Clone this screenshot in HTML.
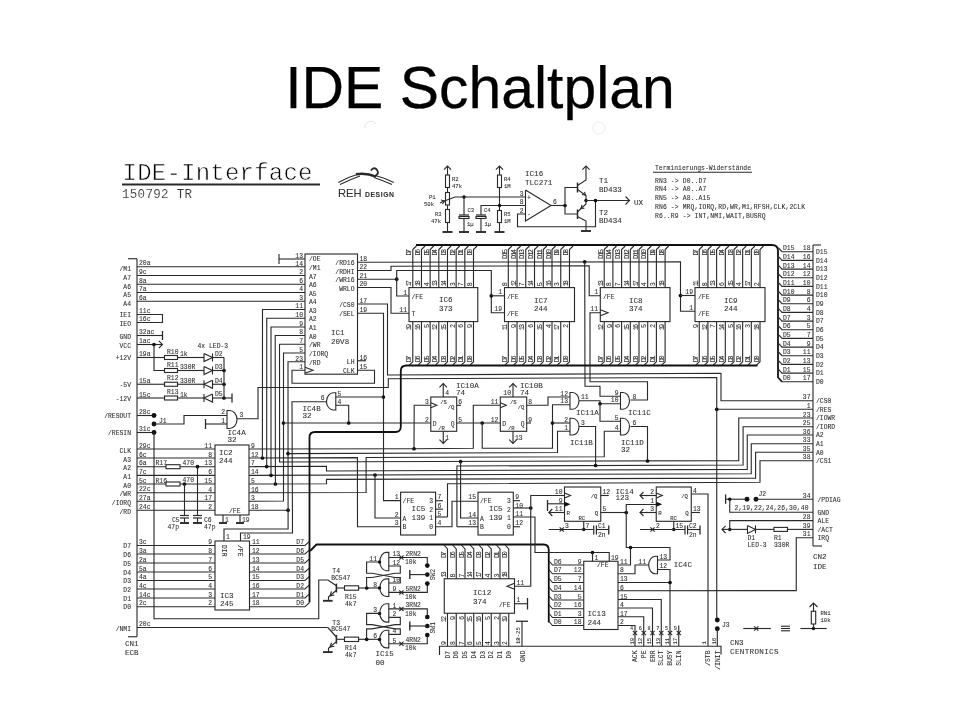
<!DOCTYPE html>
<html><head><meta charset="utf-8"><title>IDE Schaltplan</title>
<style>
html,body{margin:0;padding:0;background:#fff;}
body{width:960px;height:720px;overflow:hidden;position:relative;font-family:"Liberation Sans",sans-serif;}
h1{position:absolute;left:0;top:59.2px;margin:0;width:960px;text-align:center;font-weight:normal;font-size:58.9px;line-height:1;color:#000;white-space:nowrap;-webkit-text-stroke:0.25px #000;}
svg{position:absolute;left:0;top:0;will-change:transform;}
svg polyline,svg rect,svg path,svg line{fill:none;stroke:#2a2a2a;stroke-width:1.12}
svg .b{stroke:#111;stroke-width:1.8;stroke-linejoin:round}
svg .d{fill:#111;stroke:none}
svg rect.w{fill:#fff}
svg text{font-family:"Liberation Mono","DejaVu Sans Mono",monospace;fill:#2e2e2e;stroke:#2e2e2e;stroke-width:.08px;font-size:6.4px}
svg .n{font-size:7.6px;fill:#333}
svg .s{font-family:"Liberation Sans",sans-serif;fill:#333}
svg .sb{font-weight:bold}
svg .thin{fill:#000;stroke:#fff;stroke-width:.6px}
svg .thin2{stroke:#fff;stroke-width:.12px}
</style></head><body>
<h1>IDE Schaltplan</h1>
<svg width="960" height="720" viewBox="0 0 960 720">
<text x="122.5" y="180" class="n thin" textLength="190" style="font-size:24px">IDE-Interface</text>
<polyline points="122,184.5 320,184.5" style="stroke-width:2"/>
<text x="122" y="197.5" class="n thin2" textLength="70" style="font-size:12.5px">150792 TR</text>
<path d="M338.3,182.5 Q348,177 358,174.3" style="stroke-width:1.1"/>
<path d="M340,184.6 Q350,179.5 360,176" style="stroke-width:1.1"/>
<path d="M393.75,182.5 Q385,178 376,175.8" style="stroke-width:1.1"/>
<path d="M392,184.6 Q383,180.5 374,177.5" style="stroke-width:1.1"/>
<path d="M356,174.3 Q366,172.6 376,176.6" style="stroke-width:2.6"/>
<path d="M374,176.3 Q379.3,174.5 377.4,170.6 Q376,167.6 373.5,168.4 Q371.6,169.2 371,170.6" style="stroke-width:1.8"/>
<text x="338" y="196.8" class="s" textLength="23.5" style="font-size:11.2px">REH</text>
<text x="365" y="196.8" class="s sb" textLength="29" style="font-size:6.8px">DESIGN</text>
<polyline points="137,258.75 137,636.75"/>
<polyline points="128,258.75 137,258.75"/>
<polyline points="128,636.75 137,636.75"/>
<polyline points="137,266.75 305,266.75"/>
<text x="139" y="265.25" class="t">20a</text>
<text x="131" y="271.05" class="t" text-anchor="end">/M1</text>
<text x="303" y="265.55" class="t" text-anchor="end">14</text>
<text x="309" y="269.75" class="t">/M1</text>
<polyline points="137,275.5 305,275.5"/>
<text x="139" y="274" class="t">9c</text>
<text x="131" y="279.8" class="t" text-anchor="end">A7</text>
<text x="303" y="274.3" class="t" text-anchor="end">2</text>
<text x="309" y="278.5" class="t">A7</text>
<polyline points="137,284.25 305,284.25"/>
<text x="139" y="282.75" class="t">8a</text>
<text x="131" y="288.55" class="t" text-anchor="end">A6</text>
<text x="303" y="283.05" class="t" text-anchor="end">6</text>
<text x="309" y="287.25" class="t">A6</text>
<polyline points="137,292.5 305,292.5"/>
<text x="139" y="291" class="t">7a</text>
<text x="131" y="296.8" class="t" text-anchor="end">A5</text>
<text x="303" y="291.3" class="t" text-anchor="end">4</text>
<text x="309" y="295.5" class="t">A5</text>
<polyline points="137,301.25 305,301.25"/>
<text x="139" y="299.75" class="t">6a</text>
<text x="131" y="305.55" class="t" text-anchor="end">A4</text>
<text x="303" y="300.05" class="t" text-anchor="end">3</text>
<text x="309" y="304.25" class="t">A4</text>
<polyline points="279,259 305,259"/>
<polyline points="279,254 279,264"/>
<text x="303" y="257.5" class="t" text-anchor="end">13</text>
<text x="309" y="261" class="t">/OE</text>
<polyline points="137,314.5 162.5,314.5 162.5,322.5 137,322.5"/>
<text x="139" y="313" class="t">11c</text>
<text x="139" y="321.3" class="t">16c</text>
<text x="131" y="317" class="t" text-anchor="end">IEI</text>
<text x="131" y="325.7" class="t" text-anchor="end">IEO</text>
<polyline points="137,335.5 162.5,335.5"/>
<polyline points="162.5,331 162.5,340" style="stroke-width:1.3"/>
<text x="139" y="334" class="t">32ac</text>
<text x="131" y="338.5" class="t" text-anchor="end">GND</text>
<polyline points="137,344.5 162,344.5"/>
<polyline points="158.9,340.9 162.5,344.5 158.9,348.1"/>
<text x="139" y="343" class="t">1ac</text>
<text x="131" y="347.5" class="t" text-anchor="end">VCC</text>
<circle cx="154" cy="344.5" r="1.8499999999999999" class="d"/>
<polyline points="154,344.5 154,370.5 164.5,370.5"/>
<polyline points="137,357.5 164.5,357.5"/>
<rect x="164.5" y="355.5" width="13" height="4" class="w"/>
<polyline points="177.5,357.5 204,357.5"/>
<polyline points="212.5,357.5 224,357.5"/>
<polyline points="204,353.5 204,361.5 212.5,357.5 204,353.5"/>
<polyline points="212.5,353.5 212.5,361.5"/>
<text x="167" y="353.7" class="t">R10</text>
<text x="180" y="356" class="t">1k</text>
<text x="215" y="355.8" class="t">D2</text>
<rect x="164.5" y="368.5" width="13" height="4" class="w"/>
<polyline points="177.5,370.5 204,370.5"/>
<polyline points="212.5,370.5 224,370.5"/>
<polyline points="204,366.5 204,374.5 212.5,370.5 204,366.5"/>
<polyline points="212.5,366.5 212.5,374.5"/>
<text x="167" y="366.7" class="t">R11</text>
<text x="180" y="369" class="t">330R</text>
<text x="215" y="368.8" class="t">D3</text>
<circle cx="224" cy="370.5" r="1.8499999999999999" class="d"/>
<polyline points="137,384.25 164.5,384.25"/>
<rect x="164.5" y="382.25" width="13" height="4" class="w"/>
<polyline points="177.5,384.25 204,384.25"/>
<polyline points="212.5,384.25 224,384.25"/>
<polyline points="212.5,380.25 212.5,388.25 204,384.25 212.5,380.25"/>
<polyline points="204,380.25 204,388.25"/>
<text x="167" y="380.45" class="t">R12</text>
<text x="180" y="382.75" class="t">330R</text>
<text x="215" y="382.55" class="t">D4</text>
<circle cx="224" cy="384.25" r="1.8499999999999999" class="d"/>
<polyline points="137,398 164.5,398"/>
<rect x="164.5" y="396" width="13" height="4" class="w"/>
<polyline points="177.5,398 204,398"/>
<polyline points="212.5,398 224,398"/>
<polyline points="212.5,394 212.5,402 204,398 212.5,394"/>
<polyline points="204,394 204,402"/>
<text x="167" y="394.2" class="t">R13</text>
<text x="180" y="396.5" class="t">1k</text>
<text x="215" y="396.3" class="t">D5</text>
<circle cx="224" cy="398" r="1.8499999999999999" class="d"/>
<polyline points="224,357.5 224,398"/>
<polyline points="224,398 232,398"/>
<polyline points="232,393.5 232,402.5" style="stroke-width:1.3"/>
<text x="197.5" y="347.5" class="t">4x LED-3</text>
<text x="139" y="356" class="t">19a</text>
<text x="131" y="360" class="t" text-anchor="end">+12V</text>
<text x="139" y="382.75" class="t">15a</text>
<text x="131" y="386.75" class="t" text-anchor="end">-5V</text>
<text x="139" y="396.5" class="t">15c</text>
<text x="131" y="400.5" class="t" text-anchor="end">-12V</text>
<polyline points="137,415.5 154,415.5"/>
<text x="139" y="414" class="t">28c</text>
<text x="131" y="418" class="t" text-anchor="end">/RESOUT</text>
<polyline points="137,432.5 154,432.5"/>
<text x="139" y="431" class="t">31c</text>
<text x="131" y="435" class="t" text-anchor="end">/RESIN</text>
<circle cx="154" cy="415.5" r="2.45" class="d"/>
<circle cx="154" cy="424" r="2.45" class="d"/>
<circle cx="154" cy="432.5" r="2.45" class="d"/>
<text x="159" y="422.5" class="t">J1</text>
<polyline points="154,424 184,424 184,415.5 227,415.5"/>
<polyline points="205.5,419 205.5,429" style="stroke-width:1.3"/>
<polyline points="205.5,424 227,424"/>
<path d="M227,410.5 H229.5 A7.5,9 0 0 1 229.5,428.5 H227 Z"/>
<text x="225" y="414" class="t" text-anchor="end">2</text>
<text x="225" y="422.5" class="t" text-anchor="end">1</text>
<text x="239.5" y="417" class="t">3</text>
<text x="227.5" y="434.7" class="n">IC4A</text>
<text x="227.5" y="441.7" class="n">32</text>
<polyline points="237,418.75 258,418.75 258,387.5 388.3,387.5 388.3,378.7 716.75,377.5 716.75,620"/>
<polyline points="154,432.5 154,618.75 318.75,618.75 318.75,580 327.8,580"/>
<rect x="215" y="445" width="34" height="70"/>
<polyline points="137,449 215,449"/>
<text x="139" y="447.5" class="t">29c</text>
<text x="131" y="452.5" class="t" text-anchor="end">CLK</text>
<text x="212" y="447.7" class="t" text-anchor="end">11</text>
<text x="251" y="447.7" class="t">9</text>
<polyline points="137,458 215,458"/>
<text x="139" y="456.5" class="t">6c</text>
<text x="131" y="461.5" class="t" text-anchor="end">A3</text>
<text x="212" y="456.7" class="t" text-anchor="end">8</text>
<text x="251" y="456.7" class="t">12</text>
<polyline points="137,466.7 215,466.7"/>
<text x="139" y="465.2" class="t">6a</text>
<text x="131" y="470.2" class="t" text-anchor="end">A2</text>
<text x="212" y="465.4" class="t" text-anchor="end">13</text>
<text x="251" y="465.4" class="t">7</text>
<polyline points="137,475.4 215,475.4"/>
<text x="139" y="473.9" class="t">7c</text>
<text x="131" y="478.9" class="t" text-anchor="end">A1</text>
<text x="212" y="474.1" class="t" text-anchor="end">6</text>
<text x="251" y="474.1" class="t">14</text>
<polyline points="137,484 215,484"/>
<text x="139" y="482.5" class="t">5c</text>
<text x="131" y="487.5" class="t" text-anchor="end">A0</text>
<text x="212" y="482.7" class="t" text-anchor="end">15</text>
<text x="251" y="482.7" class="t">5</text>
<polyline points="137,492.8 215,492.8"/>
<text x="139" y="491.3" class="t">22c</text>
<text x="131" y="496.3" class="t" text-anchor="end">/WR</text>
<text x="212" y="491.5" class="t" text-anchor="end">4</text>
<text x="251" y="491.5" class="t">16</text>
<polyline points="137,501.3 215,501.3"/>
<text x="139" y="499.8" class="t">27a</text>
<text x="131" y="504.8" class="t" text-anchor="end">/IORQ</text>
<text x="212" y="500" class="t" text-anchor="end">17</text>
<text x="251" y="500" class="t">3</text>
<polyline points="137,510.3 215,510.3"/>
<text x="139" y="508.8" class="t">24c</text>
<text x="131" y="513.8" class="t" text-anchor="end">/RD</text>
<text x="212" y="509" class="t" text-anchor="end">2</text>
<text x="251" y="509" class="t">18</text>
<rect x="166" y="464.7" width="14" height="4" class="w"/>
<rect x="166" y="482" width="14" height="4" class="w"/>
<text x="155.5" y="465.2" class="t">R17</text>
<text x="182.5" y="464.8" class="t">470</text>
<text x="155.5" y="482.7" class="t">R16</text>
<text x="182.5" y="482.3" class="t">470</text>
<circle cx="197.5" cy="466.7" r="1.8499999999999999" class="d"/>
<polyline points="197.5,466.7 197.5,515.5"/>
<circle cx="184.5" cy="484" r="1.8499999999999999" class="d"/>
<polyline points="184.5,484 184.5,515.5"/>
<polyline points="180,515.5 189,515.5" style="stroke-width:1.2"/>
<polyline points="180,518 189,518" style="stroke-width:1.2"/>
<polyline points="184.5,518 184.5,523"/>
<polyline points="180,523 189,523" style="stroke-width:1.9"/>
<polyline points="193,515.5 202,515.5" style="stroke-width:1.2"/>
<polyline points="193,518 202,518" style="stroke-width:1.2"/>
<polyline points="197.5,518 197.5,523"/>
<polyline points="193,523 202,523" style="stroke-width:1.9"/>
<text x="172" y="521.7" class="t">C5</text>
<text x="167.5" y="528.7" class="t">47p</text>
<text x="204" y="521.7" class="t">C6</text>
<text x="204" y="528.7" class="t">47p</text>
<text x="219" y="454.7" class="n">IC2</text>
<text x="219" y="462.7" class="n">244</text>
<text x="229" y="513" class="t">/FE</text>
<polyline points="223,515 223,523"/>
<polyline points="219,523 227,523" style="stroke-width:1.9"/>
<text x="225" y="521.5" class="t">1</text>
<polyline points="240,515 240,523"/>
<polyline points="236,523 244,523" style="stroke-width:1.9"/>
<text x="242" y="521.5" class="t">19</text>
<polyline points="249,449 414,448.75 473.3,448.3 473.3,405.3 500.3,405.3"/>
<polyline points="249,458 357.4,457.6 357.5,526.75 400.6,526.75"/>
<circle cx="262.4" cy="458" r="1.8499999999999999" class="d"/>
<polyline points="249,466.7 326.5,466.3 326.5,471 747.25,469.4 747.25,435 813,435"/>
<circle cx="266.7" cy="466.6" r="1.8499999999999999" class="d"/>
<polyline points="249,475.4 751.25,473.75 751.25,443.75 813,443.75"/>
<circle cx="271" cy="475.3" r="1.8499999999999999" class="d"/>
<circle cx="375" cy="475" r="1.8499999999999999" class="d"/>
<polyline points="249,484 326.5,483.8 326.5,479.4 755.6,478.1 755.6,452.2 813,452.2"/>
<circle cx="275.4" cy="484" r="1.8499999999999999" class="d"/>
<polyline points="249,492.8 366.1,492.5 366.1,457.5 604.25,456.75 604.25,431.25 620.5,431.25"/>
<polyline points="249,501.3 283.5,501 283.5,353 305,353"/>
<circle cx="283.4" cy="423" r="1.8499999999999999" class="d"/>
<polyline points="283.4,423 430.8,423"/>
<polyline points="249,510.3 288.1,510.3"/>
<circle cx="288.1" cy="510.2" r="1.8499999999999999" class="d"/>
<polyline points="305,361.75 288,361.75 288.1,529 224,529 224,541"/>
<circle cx="288" cy="453.6" r="1.8499999999999999" class="d"/>
<polyline points="288,453.6 557.5,452.5 557.5,431.25 570,431.25"/>
<polyline points="305,309.5 262.5,309.5 262.4,458"/>
<polyline points="305,318.25 266.75,318.25 266.7,466.6"/>
<polyline points="305,327 271,327 271,475.3"/>
<polyline points="305,335.5 275.2,335.5 275.4,484"/>
<polyline points="305,344.25 279.5,344.25 279.6,462 738.75,460.6 738.75,418 813,418"/>
<rect x="305" y="254" width="52.5" height="120.2"/>
<text x="303" y="308.3" class="t" text-anchor="end">11</text>
<text x="309" y="312.5" class="t">A3</text>
<text x="303" y="317.05" class="t" text-anchor="end">10</text>
<text x="309" y="321.25" class="t">A2</text>
<text x="303" y="325.8" class="t" text-anchor="end">9</text>
<text x="309" y="330" class="t">A1</text>
<text x="303" y="334.3" class="t" text-anchor="end">8</text>
<text x="309" y="338.5" class="t">A0</text>
<text x="303" y="343.05" class="t" text-anchor="end">7</text>
<text x="309" y="347.25" class="t">/WR</text>
<text x="303" y="351.8" class="t" text-anchor="end">5</text>
<text x="309" y="356" class="t">/IORQ</text>
<text x="303" y="360.55" class="t" text-anchor="end">23</text>
<text x="309" y="364.75" class="t">/RD</text>
<text x="303" y="369.1" class="t" text-anchor="end">1</text>
<text x="309" y="373.3" class="t"></text>
<polyline points="305,367.3 313,370.3 305,373.3"/>
<polyline points="305,370.3 292,370.3 292,383.3 374.5,383.3 374.5,370.3 357.5,370.3"/>
<text x="359.5" y="261" class="t">18</text>
<text x="354.5" y="265.2" class="t" text-anchor="end">/RD16</text>
<text x="359.5" y="269.3" class="t">22</text>
<text x="354.5" y="273.5" class="t" text-anchor="end">/RDHI</text>
<text x="359.5" y="278" class="t">21</text>
<text x="354.5" y="282.2" class="t" text-anchor="end">/WR16</text>
<text x="359.5" y="286.3" class="t">20</text>
<text x="354.5" y="290.5" class="t" text-anchor="end">WRLO</text>
<text x="359.5" y="302.8" class="t">17</text>
<text x="354.5" y="307" class="t" text-anchor="end">/CS0</text>
<text x="359.5" y="312.1" class="t">19</text>
<text x="354.5" y="316.3" class="t" text-anchor="end">/SEL</text>
<text x="359.5" y="359.55" class="t">16</text>
<text x="354.5" y="363.75" class="t" text-anchor="end">LH</text>
<text x="359.5" y="369.1" class="t">15</text>
<text x="354.5" y="373.3" class="t" text-anchor="end">CLK</text>
<text x="331" y="335" class="n">IC1</text>
<text x="331" y="343.7" class="n">20V8</text>
<polyline points="357.5,360.75 366,360.75"/>
<polyline points="357.5,262.2 680.5,261.75 680.5,311.25 695,311.25"/>
<circle cx="680.5" cy="295.5" r="1.8499999999999999" class="d"/>
<polyline points="680.5,295.5 695,295.5"/>
<circle cx="584.7" cy="261.8" r="1.8499999999999999" class="d"/>
<polyline points="584.7,261.8 585,386.25 600,386.25 600,396.25 620.5,396.25"/>
<polyline points="357.5,270.5 391,270.5 391,266.3 589.2,265.8 589.2,295.8 600.3,295.8"/>
<polyline points="357.5,279.2 396.7,279.2"/>
<circle cx="396.7" cy="279.2" r="1.8499999999999999" class="d"/>
<polyline points="409,296 396.7,296 396.7,270.5 491.3,270.5 491.3,312.8 504.5,312.8"/>
<circle cx="491.3" cy="295.8" r="1.8499999999999999" class="d"/>
<polyline points="491.3,295.8 504.5,295.8"/>
<polyline points="357.5,287.5 391,287.5 391,313.3 409,313.3"/>
<polyline points="357.5,304 387.5,304 387.5,375 721,373.25 721,400.75 813,400.75"/>
<polyline points="357.5,313.3 383.5,313.3 383.5,500.6 400.6,500.6"/>
<circle cx="383.4" cy="397" r="1.8499999999999999" class="d"/>
<path d="M335.8,392.8 H333.5 A7,8.6 0 0 0 333.5,410 H335.8 Z"/>
<polyline points="335.8,397 383.4,397"/>
<polyline points="335.8,405.3 348.7,405.3 348.7,423"/>
<circle cx="348.7" cy="423" r="1.8499999999999999" class="d"/>
<polyline points="327,401.7 292,401.7 292.5,533 240.5,533 240.5,541"/>
<text x="337.5" y="395.5" class="t">5</text>
<text x="337.5" y="404" class="t">4</text>
<text x="324.5" y="400" class="t" text-anchor="end">6</text>
<text x="302.5" y="410.5" class="n">IC4B</text>
<text x="302.5" y="417.5" class="n">32</text>
<rect x="215" y="541" width="34.5" height="69"/>
<polyline points="137,545.5 215,545.5"/>
<text x="139" y="544" class="t">3c</text>
<text x="131" y="548.2" class="t" text-anchor="end">D7</text>
<text x="212" y="544.2" class="t" text-anchor="end">9</text>
<polyline points="249.5,545.5 305,545.5 309.5,541.3"/>
<text x="252" y="544.2" class="t">11</text>
<text x="304" y="544.2" class="t" text-anchor="end">D7</text>
<polyline points="137,554 215,554"/>
<text x="139" y="552.5" class="t">3a</text>
<text x="131" y="556.7" class="t" text-anchor="end">D6</text>
<text x="212" y="552.7" class="t" text-anchor="end">8</text>
<polyline points="249.5,554 305,554 309.5,549.8"/>
<text x="252" y="552.7" class="t">12</text>
<text x="304" y="552.7" class="t" text-anchor="end">D6</text>
<polyline points="137,563 215,563"/>
<text x="139" y="561.5" class="t">2a</text>
<text x="131" y="565.7" class="t" text-anchor="end">D5</text>
<text x="212" y="561.7" class="t" text-anchor="end">7</text>
<polyline points="249.5,563 305,563 309.5,558.8"/>
<text x="252" y="561.7" class="t">13</text>
<text x="304" y="561.7" class="t" text-anchor="end">D5</text>
<polyline points="137,572 215,572"/>
<text x="139" y="570.5" class="t">5a</text>
<text x="131" y="574.7" class="t" text-anchor="end">D4</text>
<text x="212" y="570.7" class="t" text-anchor="end">6</text>
<polyline points="249.5,572 305,572 309.5,567.8"/>
<text x="252" y="570.7" class="t">14</text>
<text x="304" y="570.7" class="t" text-anchor="end">D4</text>
<polyline points="137,580.5 215,580.5"/>
<text x="139" y="579" class="t">4a</text>
<text x="131" y="583.2" class="t" text-anchor="end">D3</text>
<text x="212" y="579.2" class="t" text-anchor="end">5</text>
<polyline points="249.5,580.5 305,580.5 309.5,576.3"/>
<text x="252" y="579.2" class="t">15</text>
<text x="304" y="579.2" class="t" text-anchor="end">D3</text>
<polyline points="137,589 215,589"/>
<text x="139" y="587.5" class="t">4c</text>
<text x="131" y="591.7" class="t" text-anchor="end">D2</text>
<text x="212" y="587.7" class="t" text-anchor="end">4</text>
<polyline points="249.5,589 305,589 309.5,584.8"/>
<text x="252" y="587.7" class="t">16</text>
<text x="304" y="587.7" class="t" text-anchor="end">D2</text>
<polyline points="137,598 215,598"/>
<text x="139" y="596.5" class="t">14c</text>
<text x="131" y="600.7" class="t" text-anchor="end">D1</text>
<text x="212" y="596.7" class="t" text-anchor="end">3</text>
<polyline points="249.5,598 305,598 309.5,593.8"/>
<text x="252" y="596.7" class="t">17</text>
<text x="304" y="596.7" class="t" text-anchor="end">D1</text>
<polyline points="137,606.75 215,606.75"/>
<text x="139" y="605.25" class="t">2c</text>
<text x="131" y="609.45" class="t" text-anchor="end">D0</text>
<text x="212" y="605.45" class="t" text-anchor="end">2</text>
<polyline points="249.5,606.75 305,606.75 309.5,602.55"/>
<text x="252" y="605.45" class="t">18</text>
<text x="304" y="605.45" class="t" text-anchor="end">D0</text>
<text x="220" y="597.7" class="n">IC3</text>
<text x="220" y="606" class="n">245</text>
<text x="226" y="539" class="t">1</text>
<text x="243" y="539" class="t">19</text>
<text x="222" y="545" class="t" transform="rotate(90 222 545)">DIR</text>
<text x="237.5" y="545" class="t" transform="rotate(90 237.5 545)">/FE</text>
<polyline points="137,627.5 327.8,627.5"/>
<text x="139" y="626" class="t">20c</text>
<text x="131" y="630.5" class="t" text-anchor="end">/NMI</text>
<text x="125" y="646" class="n">CN1</text>
<text x="125" y="654.5" class="n">ECB</text>
<path d="M416,245 H772 Q778,245 778,251 V377.5 L782,381.75" class="b"/>
<path d="M757.5,365.5 H406.5 Q400.8,365.5 400.8,371 V426.5 Q400.8,432 395.5,432 H315 Q309.5,432 309.5,437.5 V602.5" class="b"/>
<path d="M310,551 L316.5,544.5 H543.5 Q548.75,544.5 548.75,550 V622.5" class="b"/>
<rect x="409" y="287.6" width="68.8" height="34"/>
<polyline points="412.8,287.6 412.8,249.5 416.4,246"/>
<polyline points="412.8,321.6 412.8,361.8 409.4,365"/>
<text x="411.4" y="248.8" class="t" text-anchor="end" transform="rotate(-90 411.4 248.8)" textLength="6.8" style="font-size:7.2px">D7</text>
<text x="411.4" y="286.3" class="t" transform="rotate(-90 411.4 286.3)" textLength="6.2" style="font-size:6.8px">17</text>
<text x="411.4" y="324" class="t" text-anchor="end" transform="rotate(-90 411.4 324)" textLength="6.2" style="font-size:6.8px">19</text>
<text x="411.4" y="362.3" class="t" transform="rotate(-90 411.4 362.3)" textLength="6.8" style="font-size:7.2px">D7</text>
<polyline points="421.47,287.6 421.47,249.5 425.07,246"/>
<polyline points="421.47,321.6 421.47,361.8 418.07,365"/>
<text x="420.07" y="248.8" class="t" text-anchor="end" transform="rotate(-90 420.07 248.8)" textLength="6.8" style="font-size:7.2px">D6</text>
<text x="420.07" y="286.3" class="t" transform="rotate(-90 420.07 286.3)" textLength="6.2" style="font-size:6.8px">18</text>
<text x="420.07" y="324" class="t" text-anchor="end" transform="rotate(-90 420.07 324)" textLength="6.2" style="font-size:6.8px">16</text>
<text x="420.07" y="362.3" class="t" transform="rotate(-90 420.07 362.3)" textLength="6.8" style="font-size:7.2px">D6</text>
<polyline points="430.14,287.6 430.14,249.5 433.74,246"/>
<polyline points="430.14,321.6 430.14,361.8 426.74,365"/>
<text x="428.74" y="248.8" class="t" text-anchor="end" transform="rotate(-90 428.74 248.8)" textLength="6.8" style="font-size:7.2px">D5</text>
<text x="428.74" y="286.3" class="t" transform="rotate(-90 428.74 286.3)" textLength="3.1" style="font-size:6.8px">4</text>
<text x="428.74" y="324" class="t" text-anchor="end" transform="rotate(-90 428.74 324)" textLength="3.1" style="font-size:6.8px">5</text>
<text x="428.74" y="362.3" class="t" transform="rotate(-90 428.74 362.3)" textLength="6.8" style="font-size:7.2px">D5</text>
<polyline points="438.81,287.6 438.81,249.5 442.41,246"/>
<polyline points="438.81,321.6 438.81,361.8 435.41,365"/>
<text x="437.41" y="248.8" class="t" text-anchor="end" transform="rotate(-90 437.41 248.8)" textLength="6.8" style="font-size:7.2px">D4</text>
<text x="437.41" y="286.3" class="t" transform="rotate(-90 437.41 286.3)" textLength="6.2" style="font-size:6.8px">13</text>
<text x="437.41" y="324" class="t" text-anchor="end" transform="rotate(-90 437.41 324)" textLength="6.2" style="font-size:6.8px">12</text>
<text x="437.41" y="362.3" class="t" transform="rotate(-90 437.41 362.3)" textLength="6.8" style="font-size:7.2px">D4</text>
<polyline points="447.48,287.6 447.48,249.5 451.08,246"/>
<polyline points="447.48,321.6 447.48,361.8 444.08,365"/>
<text x="446.08" y="248.8" class="t" text-anchor="end" transform="rotate(-90 446.08 248.8)" textLength="6.8" style="font-size:7.2px">D3</text>
<text x="446.08" y="286.3" class="t" transform="rotate(-90 446.08 286.3)" textLength="6.2" style="font-size:6.8px">14</text>
<text x="446.08" y="324" class="t" text-anchor="end" transform="rotate(-90 446.08 324)" textLength="6.2" style="font-size:6.8px">15</text>
<text x="446.08" y="362.3" class="t" transform="rotate(-90 446.08 362.3)" textLength="6.8" style="font-size:7.2px">D3</text>
<polyline points="456.15,287.6 456.15,249.5 459.75,246"/>
<polyline points="456.15,321.6 456.15,361.8 452.75,365"/>
<text x="454.75" y="248.8" class="t" text-anchor="end" transform="rotate(-90 454.75 248.8)" textLength="6.8" style="font-size:7.2px">D2</text>
<text x="454.75" y="286.3" class="t" transform="rotate(-90 454.75 286.3)" textLength="3.1" style="font-size:6.8px">3</text>
<text x="454.75" y="324" class="t" text-anchor="end" transform="rotate(-90 454.75 324)" textLength="3.1" style="font-size:6.8px">2</text>
<text x="454.75" y="362.3" class="t" transform="rotate(-90 454.75 362.3)" textLength="6.8" style="font-size:7.2px">D2</text>
<polyline points="464.82,287.6 464.82,249.5 468.42,246"/>
<polyline points="464.82,321.6 464.82,361.8 461.42,365"/>
<text x="463.42" y="248.8" class="t" text-anchor="end" transform="rotate(-90 463.42 248.8)" textLength="6.8" style="font-size:7.2px">D1</text>
<text x="463.42" y="286.3" class="t" transform="rotate(-90 463.42 286.3)" textLength="3.1" style="font-size:6.8px">7</text>
<text x="463.42" y="324" class="t" text-anchor="end" transform="rotate(-90 463.42 324)" textLength="3.1" style="font-size:6.8px">6</text>
<text x="463.42" y="362.3" class="t" transform="rotate(-90 463.42 362.3)" textLength="6.8" style="font-size:7.2px">D1</text>
<polyline points="473.49,287.6 473.49,249.5 477.09,246"/>
<polyline points="473.49,321.6 473.49,361.8 470.09,365"/>
<text x="472.09" y="248.8" class="t" text-anchor="end" transform="rotate(-90 472.09 248.8)" textLength="6.8" style="font-size:7.2px">D0</text>
<text x="472.09" y="286.3" class="t" transform="rotate(-90 472.09 286.3)" textLength="3.1" style="font-size:6.8px">8</text>
<text x="472.09" y="324" class="t" text-anchor="end" transform="rotate(-90 472.09 324)" textLength="3.1" style="font-size:6.8px">9</text>
<text x="472.09" y="362.3" class="t" transform="rotate(-90 472.09 362.3)" textLength="6.8" style="font-size:7.2px">D0</text>
<rect x="504.5" y="287.6" width="70" height="34"/>
<polyline points="508.3,287.6 508.3,249.5 511.9,246"/>
<polyline points="508.3,321.6 508.3,361.8 504.9,365"/>
<text x="506.9" y="248.8" class="t" text-anchor="end" transform="rotate(-90 506.9 248.8)" textLength="10.2" style="font-size:7.2px">D15</text>
<text x="506.9" y="286.3" class="t" transform="rotate(-90 506.9 286.3)" textLength="3.1" style="font-size:6.8px">8</text>
<text x="506.9" y="324" class="t" text-anchor="end" transform="rotate(-90 506.9 324)" textLength="6.2" style="font-size:6.8px">11</text>
<text x="506.9" y="362.3" class="t" transform="rotate(-90 506.9 362.3)" textLength="6.8" style="font-size:7.2px">D7</text>
<polyline points="517.04,287.6 517.04,249.5 520.64,246"/>
<polyline points="517.04,321.6 517.04,361.8 513.64,365"/>
<text x="515.64" y="248.8" class="t" text-anchor="end" transform="rotate(-90 515.64 248.8)" textLength="10.2" style="font-size:7.2px">D14</text>
<text x="515.64" y="286.3" class="t" transform="rotate(-90 515.64 286.3)" textLength="6.2" style="font-size:6.8px">12</text>
<text x="515.64" y="324" class="t" text-anchor="end" transform="rotate(-90 515.64 324)" textLength="3.1" style="font-size:6.8px">9</text>
<text x="515.64" y="362.3" class="t" transform="rotate(-90 515.64 362.3)" textLength="6.8" style="font-size:7.2px">D6</text>
<polyline points="525.78,287.6 525.78,249.5 529.38,246"/>
<polyline points="525.78,321.6 525.78,361.8 522.38,365"/>
<text x="524.38" y="248.8" class="t" text-anchor="end" transform="rotate(-90 524.38 248.8)" textLength="10.2" style="font-size:7.2px">D13</text>
<text x="524.38" y="286.3" class="t" transform="rotate(-90 524.38 286.3)" textLength="3.1" style="font-size:6.8px">7</text>
<text x="524.38" y="324" class="t" text-anchor="end" transform="rotate(-90 524.38 324)" textLength="6.2" style="font-size:6.8px">13</text>
<text x="524.38" y="362.3" class="t" transform="rotate(-90 524.38 362.3)" textLength="6.8" style="font-size:7.2px">D5</text>
<polyline points="534.52,287.6 534.52,249.5 538.12,246"/>
<polyline points="534.52,321.6 534.52,361.8 531.12,365"/>
<text x="533.12" y="248.8" class="t" text-anchor="end" transform="rotate(-90 533.12 248.8)" textLength="10.2" style="font-size:7.2px">D12</text>
<text x="533.12" y="286.3" class="t" transform="rotate(-90 533.12 286.3)" textLength="6.2" style="font-size:6.8px">14</text>
<text x="533.12" y="324" class="t" text-anchor="end" transform="rotate(-90 533.12 324)" textLength="3.1" style="font-size:6.8px">6</text>
<text x="533.12" y="362.3" class="t" transform="rotate(-90 533.12 362.3)" textLength="6.8" style="font-size:7.2px">D4</text>
<polyline points="543.26,287.6 543.26,249.5 546.86,246"/>
<polyline points="543.26,321.6 543.26,361.8 539.86,365"/>
<text x="541.86" y="248.8" class="t" text-anchor="end" transform="rotate(-90 541.86 248.8)" textLength="10.2" style="font-size:7.2px">D11</text>
<text x="541.86" y="286.3" class="t" transform="rotate(-90 541.86 286.3)" textLength="3.1" style="font-size:6.8px">5</text>
<text x="541.86" y="324" class="t" text-anchor="end" transform="rotate(-90 541.86 324)" textLength="6.2" style="font-size:6.8px">15</text>
<text x="541.86" y="362.3" class="t" transform="rotate(-90 541.86 362.3)" textLength="6.8" style="font-size:7.2px">D3</text>
<polyline points="552,287.6 552,249.5 555.6,246"/>
<polyline points="552,321.6 552,361.8 548.6,365"/>
<text x="550.6" y="248.8" class="t" text-anchor="end" transform="rotate(-90 550.6 248.8)" textLength="10.2" style="font-size:7.2px">D10</text>
<text x="550.6" y="286.3" class="t" transform="rotate(-90 550.6 286.3)" textLength="6.2" style="font-size:6.8px">16</text>
<text x="550.6" y="324" class="t" text-anchor="end" transform="rotate(-90 550.6 324)" textLength="3.1" style="font-size:6.8px">4</text>
<text x="550.6" y="362.3" class="t" transform="rotate(-90 550.6 362.3)" textLength="6.8" style="font-size:7.2px">D2</text>
<polyline points="560.74,287.6 560.74,249.5 564.34,246"/>
<polyline points="560.74,321.6 560.74,361.8 557.34,365"/>
<text x="559.34" y="248.8" class="t" text-anchor="end" transform="rotate(-90 559.34 248.8)" textLength="6.8" style="font-size:7.2px">D9</text>
<text x="559.34" y="286.3" class="t" transform="rotate(-90 559.34 286.3)" textLength="3.1" style="font-size:6.8px">3</text>
<text x="559.34" y="324" class="t" text-anchor="end" transform="rotate(-90 559.34 324)" textLength="6.2" style="font-size:6.8px">17</text>
<text x="559.34" y="362.3" class="t" transform="rotate(-90 559.34 362.3)" textLength="6.8" style="font-size:7.2px">D1</text>
<polyline points="569.48,287.6 569.48,249.5 573.08,246"/>
<polyline points="569.48,321.6 569.48,361.8 566.08,365"/>
<text x="568.08" y="248.8" class="t" text-anchor="end" transform="rotate(-90 568.08 248.8)" textLength="6.8" style="font-size:7.2px">D8</text>
<text x="568.08" y="286.3" class="t" transform="rotate(-90 568.08 286.3)" textLength="6.2" style="font-size:6.8px">18</text>
<text x="568.08" y="324" class="t" text-anchor="end" transform="rotate(-90 568.08 324)" textLength="3.1" style="font-size:6.8px">2</text>
<text x="568.08" y="362.3" class="t" transform="rotate(-90 568.08 362.3)" textLength="6.8" style="font-size:7.2px">D0</text>
<rect x="600.3" y="287.6" width="69.7" height="34"/>
<polyline points="604.2,287.6 604.2,249.5 607.8,246"/>
<polyline points="604.2,321.6 604.2,361.8 600.8,365"/>
<text x="602.8" y="248.8" class="t" text-anchor="end" transform="rotate(-90 602.8 248.8)" textLength="10.2" style="font-size:7.2px">D15</text>
<text x="602.8" y="286.3" class="t" transform="rotate(-90 602.8 286.3)" textLength="6.2" style="font-size:6.8px">13</text>
<text x="602.8" y="324" class="t" text-anchor="end" transform="rotate(-90 602.8 324)" textLength="6.2" style="font-size:6.8px">12</text>
<text x="602.8" y="362.3" class="t" transform="rotate(-90 602.8 362.3)" textLength="6.8" style="font-size:7.2px">D7</text>
<polyline points="612.9,287.6 612.9,249.5 616.5,246"/>
<polyline points="612.9,321.6 612.9,361.8 609.5,365"/>
<text x="611.5" y="248.8" class="t" text-anchor="end" transform="rotate(-90 611.5 248.8)" textLength="10.2" style="font-size:7.2px">D14</text>
<text x="611.5" y="286.3" class="t" transform="rotate(-90 611.5 286.3)" textLength="3.1" style="font-size:6.8px">8</text>
<text x="611.5" y="324" class="t" text-anchor="end" transform="rotate(-90 611.5 324)" textLength="3.1" style="font-size:6.8px">9</text>
<text x="611.5" y="362.3" class="t" transform="rotate(-90 611.5 362.3)" textLength="6.8" style="font-size:7.2px">D6</text>
<polyline points="621.6,287.6 621.6,249.5 625.2,246"/>
<polyline points="621.6,321.6 621.6,361.8 618.2,365"/>
<text x="620.2" y="248.8" class="t" text-anchor="end" transform="rotate(-90 620.2 248.8)" textLength="10.2" style="font-size:7.2px">D13</text>
<text x="620.2" y="286.3" class="t" transform="rotate(-90 620.2 286.3)" textLength="3.1" style="font-size:6.8px">7</text>
<text x="620.2" y="324" class="t" text-anchor="end" transform="rotate(-90 620.2 324)" textLength="3.1" style="font-size:6.8px">6</text>
<text x="620.2" y="362.3" class="t" transform="rotate(-90 620.2 362.3)" textLength="6.8" style="font-size:7.2px">D5</text>
<polyline points="630.3,287.6 630.3,249.5 633.9,246"/>
<polyline points="630.3,321.6 630.3,361.8 626.9,365"/>
<text x="628.9" y="248.8" class="t" text-anchor="end" transform="rotate(-90 628.9 248.8)" textLength="10.2" style="font-size:7.2px">D12</text>
<text x="628.9" y="286.3" class="t" transform="rotate(-90 628.9 286.3)" textLength="6.2" style="font-size:6.8px">14</text>
<text x="628.9" y="324" class="t" text-anchor="end" transform="rotate(-90 628.9 324)" textLength="6.2" style="font-size:6.8px">15</text>
<text x="628.9" y="362.3" class="t" transform="rotate(-90 628.9 362.3)" textLength="6.8" style="font-size:7.2px">D4</text>
<polyline points="639,287.6 639,249.5 642.6,246"/>
<polyline points="639,321.6 639,361.8 635.6,365"/>
<text x="637.6" y="248.8" class="t" text-anchor="end" transform="rotate(-90 637.6 248.8)" textLength="10.2" style="font-size:7.2px">D11</text>
<text x="637.6" y="286.3" class="t" transform="rotate(-90 637.6 286.3)" textLength="6.2" style="font-size:6.8px">17</text>
<text x="637.6" y="324" class="t" text-anchor="end" transform="rotate(-90 637.6 324)" textLength="6.2" style="font-size:6.8px">16</text>
<text x="637.6" y="362.3" class="t" transform="rotate(-90 637.6 362.3)" textLength="6.8" style="font-size:7.2px">D3</text>
<polyline points="647.7,287.6 647.7,249.5 651.3,246"/>
<polyline points="647.7,321.6 647.7,361.8 644.3,365"/>
<text x="646.3" y="248.8" class="t" text-anchor="end" transform="rotate(-90 646.3 248.8)" textLength="10.2" style="font-size:7.2px">D10</text>
<text x="646.3" y="286.3" class="t" transform="rotate(-90 646.3 286.3)" textLength="3.1" style="font-size:6.8px">4</text>
<text x="646.3" y="324" class="t" text-anchor="end" transform="rotate(-90 646.3 324)" textLength="3.1" style="font-size:6.8px">5</text>
<text x="646.3" y="362.3" class="t" transform="rotate(-90 646.3 362.3)" textLength="6.8" style="font-size:7.2px">D2</text>
<polyline points="656.4,287.6 656.4,249.5 660,246"/>
<polyline points="656.4,321.6 656.4,361.8 653,365"/>
<text x="655" y="248.8" class="t" text-anchor="end" transform="rotate(-90 655 248.8)" textLength="6.8" style="font-size:7.2px">D9</text>
<text x="655" y="286.3" class="t" transform="rotate(-90 655 286.3)" textLength="3.1" style="font-size:6.8px">3</text>
<text x="655" y="324" class="t" text-anchor="end" transform="rotate(-90 655 324)" textLength="3.1" style="font-size:6.8px">2</text>
<text x="655" y="362.3" class="t" transform="rotate(-90 655 362.3)" textLength="6.8" style="font-size:7.2px">D1</text>
<polyline points="665.1,287.6 665.1,249.5 668.7,246"/>
<polyline points="665.1,321.6 665.1,361.8 661.7,365"/>
<text x="663.7" y="248.8" class="t" text-anchor="end" transform="rotate(-90 663.7 248.8)" textLength="6.8" style="font-size:7.2px">D8</text>
<text x="663.7" y="286.3" class="t" transform="rotate(-90 663.7 286.3)" textLength="6.2" style="font-size:6.8px">18</text>
<text x="663.7" y="324" class="t" text-anchor="end" transform="rotate(-90 663.7 324)" textLength="6.2" style="font-size:6.8px">19</text>
<text x="663.7" y="362.3" class="t" transform="rotate(-90 663.7 362.3)" textLength="6.8" style="font-size:7.2px">D0</text>
<rect x="695" y="287.6" width="70" height="34"/>
<polyline points="699.25,287.6 699.25,249.5 702.85,246"/>
<polyline points="699.25,321.6 699.25,361.8 695.85,365"/>
<text x="697.85" y="248.8" class="t" text-anchor="end" transform="rotate(-90 697.85 248.8)" textLength="6.8" style="font-size:7.2px">D7</text>
<text x="697.85" y="286.3" class="t" transform="rotate(-90 697.85 286.3)" textLength="6.2" style="font-size:6.8px">11</text>
<text x="697.85" y="324" class="t" text-anchor="end" transform="rotate(-90 697.85 324)" textLength="3.1" style="font-size:6.8px">9</text>
<text x="697.85" y="362.3" class="t" transform="rotate(-90 697.85 362.3)" textLength="6.8" style="font-size:7.2px">D7</text>
<polyline points="707.93,287.6 707.93,249.5 711.53,246"/>
<polyline points="707.93,321.6 707.93,361.8 704.53,365"/>
<text x="706.53" y="248.8" class="t" text-anchor="end" transform="rotate(-90 706.53 248.8)" textLength="6.8" style="font-size:7.2px">D6</text>
<text x="706.53" y="286.3" class="t" transform="rotate(-90 706.53 286.3)" textLength="3.1" style="font-size:6.8px">8</text>
<text x="706.53" y="324" class="t" text-anchor="end" transform="rotate(-90 706.53 324)" textLength="6.2" style="font-size:6.8px">12</text>
<text x="706.53" y="362.3" class="t" transform="rotate(-90 706.53 362.3)" textLength="6.8" style="font-size:7.2px">D6</text>
<polyline points="716.61,287.6 716.61,249.5 720.21,246"/>
<polyline points="716.61,321.6 716.61,361.8 713.21,365"/>
<text x="715.21" y="248.8" class="t" text-anchor="end" transform="rotate(-90 715.21 248.8)" textLength="6.8" style="font-size:7.2px">D5</text>
<text x="715.21" y="286.3" class="t" transform="rotate(-90 715.21 286.3)" textLength="6.2" style="font-size:6.8px">13</text>
<text x="715.21" y="324" class="t" text-anchor="end" transform="rotate(-90 715.21 324)" textLength="3.1" style="font-size:6.8px">7</text>
<text x="715.21" y="362.3" class="t" transform="rotate(-90 715.21 362.3)" textLength="6.8" style="font-size:7.2px">D5</text>
<polyline points="725.29,287.6 725.29,249.5 728.89,246"/>
<polyline points="725.29,321.6 725.29,361.8 721.89,365"/>
<text x="723.89" y="248.8" class="t" text-anchor="end" transform="rotate(-90 723.89 248.8)" textLength="6.8" style="font-size:7.2px">D4</text>
<text x="723.89" y="286.3" class="t" transform="rotate(-90 723.89 286.3)" textLength="3.1" style="font-size:6.8px">6</text>
<text x="723.89" y="324" class="t" text-anchor="end" transform="rotate(-90 723.89 324)" textLength="6.2" style="font-size:6.8px">14</text>
<text x="723.89" y="362.3" class="t" transform="rotate(-90 723.89 362.3)" textLength="6.8" style="font-size:7.2px">D4</text>
<polyline points="733.97,287.6 733.97,249.5 737.57,246"/>
<polyline points="733.97,321.6 733.97,361.8 730.57,365"/>
<text x="732.57" y="248.8" class="t" text-anchor="end" transform="rotate(-90 732.57 248.8)" textLength="6.8" style="font-size:7.2px">D3</text>
<text x="732.57" y="286.3" class="t" transform="rotate(-90 732.57 286.3)" textLength="6.2" style="font-size:6.8px">15</text>
<text x="732.57" y="324" class="t" text-anchor="end" transform="rotate(-90 732.57 324)" textLength="3.1" style="font-size:6.8px">5</text>
<text x="732.57" y="362.3" class="t" transform="rotate(-90 732.57 362.3)" textLength="6.8" style="font-size:7.2px">D3</text>
<polyline points="742.65,287.6 742.65,249.5 746.25,246"/>
<polyline points="742.65,321.6 742.65,361.8 739.25,365"/>
<text x="741.25" y="248.8" class="t" text-anchor="end" transform="rotate(-90 741.25 248.8)" textLength="6.8" style="font-size:7.2px">D2</text>
<text x="741.25" y="286.3" class="t" transform="rotate(-90 741.25 286.3)" textLength="3.1" style="font-size:6.8px">4</text>
<text x="741.25" y="324" class="t" text-anchor="end" transform="rotate(-90 741.25 324)" textLength="6.2" style="font-size:6.8px">16</text>
<text x="741.25" y="362.3" class="t" transform="rotate(-90 741.25 362.3)" textLength="6.8" style="font-size:7.2px">D2</text>
<polyline points="751.33,287.6 751.33,249.5 754.93,246"/>
<polyline points="751.33,321.6 751.33,361.8 747.93,365"/>
<text x="749.93" y="248.8" class="t" text-anchor="end" transform="rotate(-90 749.93 248.8)" textLength="6.8" style="font-size:7.2px">D1</text>
<text x="749.93" y="286.3" class="t" transform="rotate(-90 749.93 286.3)" textLength="6.2" style="font-size:6.8px">17</text>
<text x="749.93" y="324" class="t" text-anchor="end" transform="rotate(-90 749.93 324)" textLength="3.1" style="font-size:6.8px">3</text>
<text x="749.93" y="362.3" class="t" transform="rotate(-90 749.93 362.3)" textLength="6.8" style="font-size:7.2px">D1</text>
<polyline points="760.01,287.6 760.01,249.5 763.61,246"/>
<polyline points="760.01,321.6 760.01,361.8 756.61,365"/>
<text x="758.61" y="248.8" class="t" text-anchor="end" transform="rotate(-90 758.61 248.8)" textLength="6.8" style="font-size:7.2px">D0</text>
<text x="758.61" y="286.3" class="t" transform="rotate(-90 758.61 286.3)" textLength="3.1" style="font-size:6.8px">2</text>
<text x="758.61" y="324" class="t" text-anchor="end" transform="rotate(-90 758.61 324)" textLength="6.2" style="font-size:6.8px">18</text>
<text x="758.61" y="362.3" class="t" transform="rotate(-90 758.61 362.3)" textLength="6.8" style="font-size:7.2px">D0</text>
<text x="439" y="302.3" class="n">IC6</text>
<text x="439" y="311" class="n">373</text>
<text x="411.5" y="299" class="t">/FE</text>
<text x="411.5" y="316" class="t">T</text>
<text x="407" y="294.5" class="t" text-anchor="end">1</text>
<text x="407" y="311.8" class="t" text-anchor="end">11</text>
<text x="534" y="302.5" class="n">IC7</text>
<text x="534" y="311" class="n">244</text>
<text x="507" y="299" class="t">/FE</text>
<text x="507" y="316" class="t">/FE</text>
<text x="502" y="294.3" class="t" text-anchor="end">1</text>
<text x="502" y="311.3" class="t" text-anchor="end">19</text>
<text x="629" y="302.5" class="n">IC8</text>
<text x="629" y="311" class="n">374</text>
<text x="603" y="299" class="t">/FE</text>
<text x="598" y="294.3" class="t" text-anchor="end">1</text>
<text x="598" y="311.3" class="t" text-anchor="end">11</text>
<polyline points="600.3,309.8 608,312.8 600.3,315.8"/>
<text x="724" y="302.5" class="n">IC9</text>
<text x="724" y="311" class="n">244</text>
<text x="698" y="299" class="t">/FE</text>
<text x="698" y="315.5" class="t">/FE</text>
<text x="693" y="294" class="t" text-anchor="end">19</text>
<text x="693" y="309.8" class="t" text-anchor="end">1</text>
<polyline points="600.3,312.8 590,312.8 590,381.75 647.5,381.75 647.5,400 630.5,400"/>
<polyline points="813,245 813,546"/>
<polyline points="813,245 821,245"/>
<polyline points="813,546 822,546"/>
<polyline points="778.3,247.75 782,251.75 813,251.75"/>
<text x="783" y="250.45" class="t">D15</text>
<text x="810.5" y="250.45" class="t" text-anchor="end">18</text>
<text x="816" y="254.15" class="t">D15</text>
<polyline points="778.3,256.42 782,260.42 813,260.42"/>
<text x="783" y="259.12" class="t">D14</text>
<text x="810.5" y="259.12" class="t" text-anchor="end">16</text>
<text x="816" y="262.82" class="t">D14</text>
<polyline points="778.3,265.08 782,269.08 813,269.08"/>
<text x="783" y="267.78" class="t">D13</text>
<text x="810.5" y="267.78" class="t" text-anchor="end">14</text>
<text x="816" y="271.48" class="t">D13</text>
<polyline points="778.3,273.75 782,277.75 813,277.75"/>
<text x="783" y="276.45" class="t">D12</text>
<text x="810.5" y="276.45" class="t" text-anchor="end">12</text>
<text x="816" y="280.15" class="t">D12</text>
<polyline points="778.3,282.42 782,286.42 813,286.42"/>
<text x="783" y="285.12" class="t">D11</text>
<text x="810.5" y="285.12" class="t" text-anchor="end">10</text>
<text x="816" y="288.82" class="t">D11</text>
<polyline points="778.3,291.08 782,295.08 813,295.08"/>
<text x="783" y="293.78" class="t">D10</text>
<text x="810.5" y="293.78" class="t" text-anchor="end">8</text>
<text x="816" y="297.48" class="t">D10</text>
<polyline points="778.3,299.75 782,303.75 813,303.75"/>
<text x="783" y="302.45" class="t">D9</text>
<text x="810.5" y="302.45" class="t" text-anchor="end">6</text>
<text x="816" y="306.15" class="t">D9</text>
<polyline points="778.3,308.42 782,312.42 813,312.42"/>
<text x="783" y="311.12" class="t">D8</text>
<text x="810.5" y="311.12" class="t" text-anchor="end">4</text>
<text x="816" y="314.82" class="t">D8</text>
<polyline points="778.3,317.09 782,321.09 813,321.09"/>
<text x="783" y="319.79" class="t">D7</text>
<text x="810.5" y="319.79" class="t" text-anchor="end">3</text>
<text x="816" y="323.49" class="t">D7</text>
<polyline points="778.3,325.75 782,329.75 813,329.75"/>
<text x="783" y="328.45" class="t">D6</text>
<text x="810.5" y="328.45" class="t" text-anchor="end">5</text>
<text x="816" y="332.15" class="t">D6</text>
<polyline points="778.3,334.42 782,338.42 813,338.42"/>
<text x="783" y="337.12" class="t">D5</text>
<text x="810.5" y="337.12" class="t" text-anchor="end">7</text>
<text x="816" y="340.82" class="t">D5</text>
<polyline points="778.3,343.09 782,347.09 813,347.09"/>
<text x="783" y="345.79" class="t">D4</text>
<text x="810.5" y="345.79" class="t" text-anchor="end">9</text>
<text x="816" y="349.49" class="t">D4</text>
<polyline points="778.3,351.75 782,355.75 813,355.75"/>
<text x="783" y="354.45" class="t">D3</text>
<text x="810.5" y="354.45" class="t" text-anchor="end">11</text>
<text x="816" y="358.15" class="t">D3</text>
<polyline points="778.3,360.42 782,364.42 813,364.42"/>
<text x="783" y="363.12" class="t">D2</text>
<text x="810.5" y="363.12" class="t" text-anchor="end">13</text>
<text x="816" y="366.82" class="t">D2</text>
<polyline points="778.3,369.09 782,373.09 813,373.09"/>
<text x="783" y="371.79" class="t">D1</text>
<text x="810.5" y="371.79" class="t" text-anchor="end">15</text>
<text x="816" y="375.49" class="t">D1</text>
<polyline points="778.3,377.75 782,381.75 813,381.75"/>
<text x="783" y="380.45" class="t">D0</text>
<text x="810.5" y="380.45" class="t" text-anchor="end">17</text>
<text x="816" y="384.15" class="t">D0</text>
<text x="810.5" y="399.45" class="t" text-anchor="end">37</text>
<text x="816" y="403.15" class="t">/CS0</text>
<text x="810.5" y="407.95" class="t" text-anchor="end">1</text>
<text x="816" y="411.65" class="t">/RES</text>
<text x="810.5" y="416.7" class="t" text-anchor="end">23</text>
<text x="816" y="420.4" class="t">/IOWR</text>
<text x="810.5" y="425.45" class="t" text-anchor="end">25</text>
<text x="816" y="429.15" class="t">/IORD</text>
<text x="810.5" y="433.7" class="t" text-anchor="end">36</text>
<text x="816" y="437.4" class="t">A2</text>
<text x="810.5" y="442.45" class="t" text-anchor="end">33</text>
<text x="816" y="446.15" class="t">A1</text>
<text x="810.5" y="450.9" class="t" text-anchor="end">35</text>
<text x="816" y="454.6" class="t">A0</text>
<text x="810.5" y="459.45" class="t" text-anchor="end">38</text>
<text x="816" y="463.15" class="t">/CS1</text>
<polyline points="716.75,409.25 813,409.25"/>
<circle cx="716.75" cy="409.25" r="1.8499999999999999" class="d"/>
<polyline points="456.9,526.75 456.9,466 743.1,465 743.1,426.75 813,426.75"/>
<polyline points="447.5,517 447.5,483.75 760,482.25 760,460.75 813,460.75"/>
<text x="810.5" y="497.9" class="t" text-anchor="end">34</text>
<text x="817.5" y="501.7" class="t">/PDIAG</text>
<text x="810.5" y="511" class="t" text-anchor="end"></text>
<text x="817.5" y="514.8" class="t">GND</text>
<text x="810.5" y="519.3" class="t" text-anchor="end">28</text>
<text x="817.5" y="523.1" class="t">ALE</text>
<text x="810.5" y="528.1" class="t" text-anchor="end">39</text>
<text x="817.5" y="531.9" class="t">/ACT</text>
<text x="810.5" y="536.4" class="t" text-anchor="end">31</text>
<text x="817.5" y="540.2" class="t">IRQ</text>
<text x="813" y="559" class="n">CN2</text>
<text x="813" y="568.5" class="n">IDE</text>
<polyline points="725.6,494.4 725.6,503.8" style="stroke-width:1.3"/>
<polyline points="725.6,499.2 747,499.2"/>
<circle cx="729.75" cy="499.2" r="1.75" class="d"/>
<circle cx="747" cy="499.2" r="2.45" class="d"/>
<circle cx="756" cy="499.2" r="2.45" class="d"/>
<polyline points="756,499.2 813,499.2"/>
<text x="758.5" y="496" class="t">J2</text>
<polyline points="729.75,499.2 729.75,512.3 813,512.3"/>
<text x="734.5" y="510.3" class="t" textLength="74">2,19,22,24,26,30,40</text>
<polyline points="813,520.6 729.75,520.6 729.75,529.4"/>
<circle cx="729.75" cy="529.4" r="1.75" class="d"/>
<polyline points="722,529.4 747.5,529.4"/>
<polyline points="725.6,525.8 722,529.4 725.6,533"/>
<polyline points="747.5,525.4 747.5,533.4 755.5,529.4 747.5,525.4"/>
<polyline points="755.5,525.4 755.5,533.4"/>
<polyline points="755.5,529.4 774,529.4"/>
<rect x="774" y="527.4" width="13.5" height="4" class="w"/>
<polyline points="787.5,529.4 813,529.4"/>
<text x="747.5" y="540" class="t">D1</text>
<text x="747.5" y="547" class="t">LED-3</text>
<text x="774" y="540" class="t">R1</text>
<text x="774" y="547" class="t">330R</text>
<polyline points="813,537.7 796.25,537.7 796.25,590.6 618,590.75"/>
<polyline points="800.4,628.5 826.7,628.5"/>
<circle cx="813.5" cy="628.5" r="1.75" class="d"/>
<polyline points="813.5,624 813.5,628.5"/>
<rect x="811.3" y="611.25" width="4.4" height="12.75" class="w"/>
<polyline points="813.5,603 813.5,611.25"/>
<polyline points="809.5,607 813.5,603 817.5,607"/>
<text x="820.5" y="615" class="t" style="font-size:5.6px">RN1</text>
<text x="820.5" y="621.5" class="t" style="font-size:5.6px">10k</text>
<polyline points="781,626.2 790,626.2"/>
<polyline points="781,628.5 790,628.5"/>
<polyline points="781,630.8 790,630.8"/>
<polyline points="743.3,628.5 770.8,628.5"/>
<polyline points="754.15,626.4 758.35,630.6"/>
<polyline points="754.15,630.6 758.35,626.4"/>
<circle cx="717.3" cy="620" r="2.45" class="d"/>
<circle cx="717.3" cy="628.75" r="2.45" class="d"/>
<text x="722" y="626.7" class="t">J3</text>
<polyline points="717.3,628.75 717.3,646"/>
<rect x="430.8" y="397" width="25.9" height="34.3"/>
<polyline points="443.25,383.5 443.25,397"/>
<polyline points="439.45,387.3 443.25,383.5 447.05,387.3"/>
<polyline points="443.25,431.3 443.25,443.5"/>
<polyline points="439.45,439.7 443.25,443.5 447.05,439.7"/>
<polyline points="430.8,402.8 436.8,405.3 430.8,407.8"/>
<text x="440.25" y="404" class="t" style="font-size:5.6px">/S</text>
<text x="447.7" y="409" class="t" style="font-size:5.6px">/Q</text>
<text x="432.8" y="426" class="t">D</text>
<text x="450.7" y="426" class="t">Q</text>
<text x="438.25" y="430" class="t" style="font-size:5.6px">/R</text>
<text x="445.25" y="394.5" class="t">4</text>
<text x="445.25" y="440" class="t">1</text>
<text x="428.8" y="403.8" class="t" text-anchor="end">3</text>
<text x="428.8" y="421.5" class="t" text-anchor="end">2</text>
<text x="458.2" y="403.8" class="t">6</text>
<text x="458.2" y="421.5" class="t">5</text>
<text x="456" y="387.7" class="n">IC10A</text>
<text x="456" y="394.7" class="n">74</text>
<rect x="500.3" y="397" width="26.4" height="34.3"/>
<polyline points="513,383.5 513,397"/>
<polyline points="509.2,387.3 513,383.5 516.8,387.3"/>
<polyline points="513,431.3 513,443.5"/>
<polyline points="509.2,439.7 513,443.5 516.8,439.7"/>
<polyline points="500.3,402.8 506.3,405.3 500.3,407.8"/>
<text x="510" y="404" class="t" style="font-size:5.6px">/S</text>
<text x="517.7" y="409" class="t" style="font-size:5.6px">/Q</text>
<text x="502.3" y="426" class="t">D</text>
<text x="520.7" y="426" class="t">Q</text>
<text x="508" y="430" class="t" style="font-size:5.6px">/R</text>
<text x="511" y="394.5" class="t" text-anchor="end">10</text>
<text x="515" y="440" class="t">13</text>
<text x="498.3" y="403.8" class="t" text-anchor="end">11</text>
<text x="498.3" y="421.5" class="t" text-anchor="end">12</text>
<text x="528.2" y="403.8" class="t">8</text>
<text x="528.2" y="421.5" class="t">9</text>
<text x="520" y="387.7" class="n">IC10B</text>
<text x="520" y="394.7" class="n">74</text>
<polyline points="430.8,405.3 414.2,405.3 414,448.75"/>
<circle cx="414" cy="448.75" r="1.8499999999999999" class="d"/>
<polyline points="456.7,405.3 461,405.3"/>
<polyline points="456.7,423 500.3,423"/>
<circle cx="482.2" cy="423" r="1.8499999999999999" class="d"/>
<polyline points="482.2,423 482.2,448.3 552.5,448.3 552.5,404.7 570,404.7"/>
<circle cx="552.5" cy="423" r="1.8499999999999999" class="d"/>
<polyline points="552.5,423 570,423"/>
<polyline points="526.7,405.3 548,405.3 548,397 570,397"/>
<polyline points="526.7,423 531,423"/>
<path d="M570,392.5 H572.5 A6.5,8.35 0 0 1 572.5,409.2 H570 Z"/>
<path d="M570,418.3 H572.5 A6.5,8.35 0 0 1 572.5,435 H570 Z"/>
<path d="M620.5,392.5 H623 A6.5,8.35 0 0 1 623,409.2 H620.5 Z"/>
<path d="M620.5,418.3 H623 A6.5,8.35 0 0 1 623,435 H620.5 Z"/>
<text x="568" y="395.5" class="t" text-anchor="end">12</text>
<text x="568" y="403.3" class="t" text-anchor="end">13</text>
<text x="581" y="399.3" class="t">11</text>
<text x="576" y="414.5" class="n">IC11A</text>
<text x="568" y="421.5" class="t" text-anchor="end">2</text>
<text x="568" y="430" class="t" text-anchor="end">1</text>
<text x="581" y="425" class="t">3</text>
<text x="570" y="445.2" class="n">IC11B</text>
<text x="618.5" y="394.8" class="t" text-anchor="end">9</text>
<text x="618.5" y="402.3" class="t" text-anchor="end">10</text>
<text x="632.5" y="398.5" class="t">8</text>
<text x="628" y="414.5" class="n">IC11C</text>
<text x="618.5" y="420" class="t" text-anchor="end">5</text>
<text x="618.5" y="430" class="t" text-anchor="end">4</text>
<text x="632.5" y="425" class="t">6</text>
<text x="621" y="444.7" class="n">IC11D</text>
<text x="621" y="451.5" class="n">32</text>
<polyline points="579,400.8 600,400.8 600,403.75 620.5,403.75"/>
<circle cx="600" cy="403.75" r="1.8499999999999999" class="d"/>
<polyline points="600,403.75 600,421.25 620.5,421.25"/>
<polyline points="579,426.5 595.6,426.5 595.6,465.5"/>
<circle cx="595.6" cy="465.5" r="1.8499999999999999" class="d"/>
<polyline points="630.5,426.5 647.5,426.5 647.5,461"/>
<circle cx="647.5" cy="461" r="1.8499999999999999" class="d"/>
<circle cx="460.6" cy="461.6" r="1.8499999999999999" class="d"/>
<polyline points="460.6,461.6 460.6,518 478,518"/>
<rect x="400.6" y="492.2" width="35" height="42.8"/>
<text x="402.6" y="503" class="t">/FE</text>
<text x="402.6" y="520.5" class="t">A</text>
<text x="402.6" y="529.3" class="t">B</text>
<text x="433.1" y="503.2" class="t" text-anchor="end">3</text>
<text x="437.6" y="499.4" class="t">7</text>
<text x="433.1" y="511.7" class="t" text-anchor="end">2</text>
<text x="437.6" y="507.9" class="t">6</text>
<text x="433.1" y="519.5" class="t" text-anchor="end">1</text>
<text x="437.6" y="515.7" class="t">5</text>
<text x="433.1" y="529.25" class="t" text-anchor="end">0</text>
<text x="437.6" y="525.45" class="t">4</text>
<text x="411.6" y="511" class="n">IC5</text>
<text x="411.6" y="519.5" class="n">139</text>
<text x="398.6" y="499.4" class="t" text-anchor="end">1</text>
<text x="398.6" y="516.7" class="t" text-anchor="end">2</text>
<text x="398.6" y="525.45" class="t" text-anchor="end">3</text>
<rect x="478" y="492.2" width="35.3" height="42.8"/>
<text x="480" y="503" class="t">/FE</text>
<text x="480" y="520.5" class="t">A</text>
<text x="480" y="529.3" class="t">B</text>
<text x="510.8" y="503.2" class="t" text-anchor="end">3</text>
<text x="515.3" y="499.4" class="t">9</text>
<text x="510.8" y="511.7" class="t" text-anchor="end">2</text>
<text x="515.3" y="507.9" class="t">10</text>
<text x="510.8" y="519.5" class="t" text-anchor="end">1</text>
<text x="515.3" y="515.7" class="t">11</text>
<text x="510.8" y="529.25" class="t" text-anchor="end">0</text>
<text x="515.3" y="525.45" class="t">12</text>
<text x="489" y="511" class="n">IC5</text>
<text x="489" y="519.5" class="n">139</text>
<text x="476" y="499.4" class="t" text-anchor="end">15</text>
<text x="476" y="516.7" class="t" text-anchor="end">14</text>
<text x="476" y="525.45" class="t" text-anchor="end">13</text>
<polyline points="375,475 375,518 400.6,518"/>
<polyline points="435.6,500.7 443,500.7"/>
<polyline points="435.6,509.2 443,509.2"/>
<polyline points="435.6,517 447.5,517"/>
<polyline points="435.6,526.75 452,526.75 452,501.25 478,501.25"/>
<polyline points="456.9,526.75 478,526.75"/>
<polyline points="513.3,500.7 520,500.7"/>
<polyline points="513.3,526.75 520,526.75"/>
<polyline points="513.3,508 530.75,508"/>
<circle cx="530.75" cy="508" r="1.8499999999999999" class="d"/>
<polyline points="564.5,495.5 530.75,495.5 530.75,586.25 514.5,586.25"/>
<polyline points="513.3,517 535,517 535,552.5 609.25,552.5 609.25,561.25"/>
<circle cx="592.5" cy="552.5" r="1.8499999999999999" class="d"/>
<polyline points="592.5,552.5 592.5,561.25"/>
<rect x="564.5" y="487" width="36.25" height="34.3"/>
<text x="590.75" y="498" class="t" style="font-size:5.6px">/Q</text>
<text x="594.75" y="515" class="t" style="font-size:5.8px">Q</text>
<text x="566.5" y="515" class="t" style="font-size:5.8px">R</text>
<text x="578.5" y="520" class="t" style="font-size:5.6px">RC</text>
<polyline points="564.5,493 570.5,495.5 564.5,498"/>
<path d="M564.5,501.8 L570.5,504.3 L564.5,506.8 Z" class="d"/>
<rect x="656.25" y="487" width="35" height="34.3"/>
<text x="681.25" y="498" class="t" style="font-size:5.6px">/Q</text>
<text x="685.25" y="515" class="t" style="font-size:5.8px">Q</text>
<text x="658.25" y="515" class="t" style="font-size:5.8px">R</text>
<text x="670.25" y="520" class="t" style="font-size:5.6px">RC</text>
<polyline points="656.25,493 662.25,495.5 656.25,498"/>
<path d="M656.25,501.8 L662.25,504.3 L656.25,506.8 Z" class="d"/>
<text x="615.5" y="493.7" class="n">IC14</text>
<text x="615.5" y="500.2" class="n">123</text>
<text x="562.5" y="494" class="t" text-anchor="end">10</text>
<text x="562.5" y="502.5" class="t" text-anchor="end">9</text>
<text x="562.5" y="511" class="t" text-anchor="end">11</text>
<polyline points="547.5,500 547.5,511" style="stroke-width:1.3"/>
<polyline points="547.5,503.8 564.5,503.8"/>
<polyline points="549,512.5 564.5,512.5"/>
<polyline points="552.3,509 548.8,512.5 552.3,516"/>
<polyline points="600.75,495.5 608.75,495.5"/>
<text x="602.5" y="494" class="t">12</text>
<text x="602.5" y="511" class="t">5</text>
<polyline points="600.75,512.5 626.25,512.5"/>
<circle cx="626.25" cy="512.5" r="1.8499999999999999" class="d"/>
<polyline points="656.25,504.5 626.25,504.5 626.25,547.5 670,547.5 670,560 657.5,560"/>
<circle cx="630.5" cy="547.5" r="1.8499999999999999" class="d"/>
<polyline points="583.75,521.3 583.75,529.5"/>
<circle cx="583.75" cy="529.5" r="1.75" class="d"/>
<polyline points="548.75,529.5 593.75,529.5"/>
<polyline points="559.65,527.4 563.85,531.6"/>
<polyline points="559.65,531.6 563.85,527.4"/>
<text x="565" y="527.5" class="t">3</text>
<text x="585.5" y="527.5" class="t">7</text>
<polyline points="593.75,525.5 593.75,534.5" style="stroke-width:1.2"/>
<polyline points="596.4,525.5 596.4,534.5" style="stroke-width:1.2"/>
<polyline points="596.4,529.5 608.75,529.5"/>
<polyline points="608.75,525.5 608.75,534.5" style="stroke-width:1.3"/>
<text x="598" y="527.5" class="t">C1</text>
<text x="598" y="536.5" class="t">2n</text>
<polyline points="640.5,495.5 656.25,495.5"/>
<polyline points="643.5,492 640,495.5 643.5,499"/>
<polyline points="640.5,512.5 656.25,512.5"/>
<polyline points="643.5,509 640,512.5 643.5,516"/>
<text x="654" y="494" class="t" text-anchor="end">2</text>
<text x="654" y="503" class="t" text-anchor="end">1</text>
<text x="654" y="511" class="t" text-anchor="end">3</text>
<polyline points="691.25,494 708,494 708,646"/>
<text x="693" y="492.5" class="t">4</text>
<polyline points="691.25,512.5 700,512.5"/>
<text x="693" y="511" class="t">13</text>
<polyline points="673.75,521.3 673.75,529.5"/>
<circle cx="673.75" cy="529.5" r="1.75" class="d"/>
<polyline points="640,529.5 685,529.5"/>
<polyline points="650.4,527.4 654.6,531.6"/>
<polyline points="650.4,531.6 654.6,527.4"/>
<text x="656" y="527.5" class="t">2</text>
<text x="675.5" y="527.5" class="t">15</text>
<polyline points="685,525.5 685,534.5" style="stroke-width:1.2"/>
<polyline points="687.6,525.5 687.6,534.5" style="stroke-width:1.2"/>
<polyline points="687.6,529.5 700,529.5"/>
<polyline points="700,525.5 700,534.5" style="stroke-width:1.3"/>
<text x="689" y="527.5" class="t">C2</text>
<text x="689" y="536.5" class="t">2n</text>
<rect x="583.75" y="561.25" width="34.25" height="68.25"/>
<polyline points="549,561 552.5,565 583.75,565"/>
<text x="554" y="563.7" class="t">D6</text>
<text x="581.5" y="563.7" class="t" text-anchor="end">9</text>
<text x="620" y="563.7" class="t">11</text>
<polyline points="549,569.75 552.5,573.75 583.75,573.75"/>
<text x="554" y="572.45" class="t">D7</text>
<text x="581.5" y="572.45" class="t" text-anchor="end">12</text>
<text x="620" y="572.45" class="t">8</text>
<polyline points="549,578.5 552.5,582.5 583.75,582.5"/>
<text x="554" y="581.2" class="t">D5</text>
<text x="581.5" y="581.2" class="t" text-anchor="end">7</text>
<text x="620" y="581.2" class="t">13</text>
<polyline points="549,587.25 552.5,591.25 583.75,591.25"/>
<text x="554" y="589.95" class="t">D4</text>
<text x="581.5" y="589.95" class="t" text-anchor="end">14</text>
<text x="620" y="589.95" class="t">6</text>
<polyline points="549,596 552.5,600 583.75,600"/>
<text x="554" y="598.7" class="t">D3</text>
<text x="581.5" y="598.7" class="t" text-anchor="end">5</text>
<text x="620" y="598.7" class="t">15</text>
<polyline points="549,604.75 552.5,608.75 583.75,608.75"/>
<text x="554" y="607.45" class="t">D2</text>
<text x="581.5" y="607.45" class="t" text-anchor="end">16</text>
<text x="620" y="607.45" class="t">4</text>
<polyline points="549,613.5 552.5,617.5 583.75,617.5"/>
<text x="554" y="616.2" class="t">D1</text>
<text x="581.5" y="616.2" class="t" text-anchor="end">3</text>
<text x="620" y="616.2" class="t">17</text>
<polyline points="549,621.5 552.5,625.5 583.75,625.5"/>
<text x="554" y="624.2" class="t">D0</text>
<text x="581.5" y="624.2" class="t" text-anchor="end">18</text>
<text x="620" y="624.2" class="t">2</text>
<text x="587.5" y="616" class="n">IC13</text>
<text x="587.5" y="625.2" class="n">244</text>
<text x="597" y="567" class="t">/FE</text>
<text x="594.5" y="559.5" class="t">1</text>
<text x="611" y="559.5" class="t">19</text>
<polyline points="618,565 630.5,565 630.5,547.5"/>
<polyline points="618,573.75 635,573.75 635,565 648.75,565"/>
<path d="M657.5,556.3 H655 A6.5,8.73 0 0 0 655,573.75 H657.5 Z"/>
<text x="659.5" y="558.5" class="t">13</text>
<text x="659.5" y="568" class="t">12</text>
<text x="646" y="563.5" class="t" text-anchor="end">11</text>
<text x="673.75" y="566.5" class="n">IC4C</text>
<polyline points="657.5,569.5 670,569.5 670,646"/>
<polyline points="618,582.5 670,582.5"/>
<circle cx="670" cy="582.5" r="1.8499999999999999" class="d"/>
<polyline points="618,599.5 661.25,599.5 661.25,646"/>
<polyline points="618,608 652.5,608 652.5,646"/>
<polyline points="618,616.75 643.75,616.75 643.75,646"/>
<polyline points="618,625.5 635,625.5 635,646"/>
<polyline points="678.75,625.5 678.75,646"/>
<polyline points="632.9,630.9 637.1,635.1"/>
<polyline points="632.9,635.1 637.1,630.9"/>
<text x="633.5" y="644.5" class="t" transform="rotate(-90 633.5 644.5)" style="font-size:5.6px">10</text>
<text x="633" y="629.5" class="t" text-anchor="end" style="font-size:5.2px">4</text>
<text x="637.2" y="650.5" class="t" text-anchor="end" transform="rotate(-90 637.2 650.5)">ACK</text>
<polyline points="641.65,630.9 645.85,635.1"/>
<polyline points="641.65,635.1 645.85,630.9"/>
<text x="642.25" y="644.5" class="t" transform="rotate(-90 642.25 644.5)" style="font-size:5.6px">12</text>
<text x="641.75" y="629.5" class="t" text-anchor="end" style="font-size:5.2px">6</text>
<text x="645.95" y="650.5" class="t" text-anchor="end" transform="rotate(-90 645.95 650.5)">PE</text>
<polyline points="650.4,630.9 654.6,635.1"/>
<polyline points="650.4,635.1 654.6,630.9"/>
<text x="651" y="644.5" class="t" transform="rotate(-90 651 644.5)" style="font-size:5.6px">15</text>
<text x="650.5" y="629.5" class="t" text-anchor="end" style="font-size:5.2px">8</text>
<text x="654.7" y="650.5" class="t" text-anchor="end" transform="rotate(-90 654.7 650.5)">ERR</text>
<polyline points="659.15,630.9 663.35,635.1"/>
<polyline points="659.15,635.1 663.35,630.9"/>
<text x="659.75" y="644.5" class="t" transform="rotate(-90 659.75 644.5)" style="font-size:5.6px">13</text>
<text x="659.25" y="629.5" class="t" text-anchor="end" style="font-size:5.2px">7</text>
<text x="663.45" y="650.5" class="t" text-anchor="end" transform="rotate(-90 663.45 650.5)">SLCT</text>
<polyline points="667.9,630.9 672.1,635.1"/>
<polyline points="667.9,635.1 672.1,630.9"/>
<text x="668.5" y="644.5" class="t" transform="rotate(-90 668.5 644.5)" style="font-size:5.6px">11</text>
<text x="668" y="629.5" class="t" text-anchor="end" style="font-size:5.2px">5</text>
<text x="672.2" y="650.5" class="t" text-anchor="end" transform="rotate(-90 672.2 650.5)">BUSY</text>
<polyline points="676.65,630.9 680.85,635.1"/>
<polyline points="676.65,635.1 680.85,630.9"/>
<text x="677.25" y="644.5" class="t" transform="rotate(-90 677.25 644.5)" style="font-size:5.6px">17</text>
<text x="676.75" y="629.5" class="t" text-anchor="end" style="font-size:5.2px">9</text>
<text x="680.95" y="650.5" class="t" text-anchor="end" transform="rotate(-90 680.95 650.5)">SLIN</text>
<text x="706.3" y="644.5" class="t" transform="rotate(-90 706.3 644.5)" style="font-size:5.6px">1</text>
<text x="715.5" y="644.5" class="t" transform="rotate(-90 715.5 644.5)" style="font-size:5.6px">16</text>
<text x="710.2" y="650.5" class="t" text-anchor="end" transform="rotate(-90 710.2 650.5)">/STB</text>
<text x="719.5" y="650.5" class="t" text-anchor="end" transform="rotate(-90 719.5 650.5)">/INIT</text>
<polyline points="439.5,655 439.5,646.2 721,646.2 721,654.5"/>
<text x="730" y="645" class="n">CN3</text>
<text x="730" y="654" class="n" textLength="48.5">CENTRONICS</text>
<rect x="444.25" y="578.75" width="70.25" height="34.5"/>
<polyline points="447.5,578.75 447.5,549 443.9,545"/>
<polyline points="447.5,613.25 447.5,646.2"/>
<text x="446.1" y="558" class="t" transform="rotate(-90 446.1 558)" textLength="6.8" style="font-size:7.2px">D7</text>
<text x="446.1" y="577.5" class="t" transform="rotate(-90 446.1 577.5)" textLength="6.2" style="font-size:6.8px">13</text>
<text x="446.1" y="616" class="t" text-anchor="end" transform="rotate(-90 446.1 616)" textLength="6.2" style="font-size:6.8px">12</text>
<text x="446.1" y="645" class="t" transform="rotate(-90 446.1 645)">9</text>
<text x="449.7" y="650.8" class="t" text-anchor="end" transform="rotate(-90 449.7 650.8)">D7</text>
<polyline points="456.25,578.75 456.25,549 452.65,545"/>
<polyline points="456.25,613.25 456.25,646.2"/>
<text x="454.85" y="558" class="t" transform="rotate(-90 454.85 558)" textLength="6.8" style="font-size:7.2px">D6</text>
<text x="454.85" y="577.5" class="t" transform="rotate(-90 454.85 577.5)" textLength="3.1" style="font-size:6.8px">8</text>
<text x="454.85" y="616" class="t" text-anchor="end" transform="rotate(-90 454.85 616)" textLength="3.1" style="font-size:6.8px">9</text>
<text x="454.85" y="645" class="t" transform="rotate(-90 454.85 645)">8</text>
<text x="458.45" y="650.8" class="t" text-anchor="end" transform="rotate(-90 458.45 650.8)">D6</text>
<polyline points="465,578.75 465,549 461.4,545"/>
<polyline points="465,613.25 465,646.2"/>
<text x="463.6" y="558" class="t" transform="rotate(-90 463.6 558)" textLength="6.8" style="font-size:7.2px">D5</text>
<text x="463.6" y="577.5" class="t" transform="rotate(-90 463.6 577.5)" textLength="3.1" style="font-size:6.8px">7</text>
<text x="463.6" y="616" class="t" text-anchor="end" transform="rotate(-90 463.6 616)" textLength="3.1" style="font-size:6.8px">6</text>
<text x="463.6" y="645" class="t" transform="rotate(-90 463.6 645)">7</text>
<text x="467.2" y="650.8" class="t" text-anchor="end" transform="rotate(-90 467.2 650.8)">D5</text>
<polyline points="473.75,578.75 473.75,549 470.15,545"/>
<polyline points="473.75,613.25 473.75,646.2"/>
<text x="472.35" y="558" class="t" transform="rotate(-90 472.35 558)" textLength="6.8" style="font-size:7.2px">D4</text>
<text x="472.35" y="577.5" class="t" transform="rotate(-90 472.35 577.5)" textLength="6.2" style="font-size:6.8px">14</text>
<text x="472.35" y="616" class="t" text-anchor="end" transform="rotate(-90 472.35 616)" textLength="6.2" style="font-size:6.8px">15</text>
<text x="472.35" y="645" class="t" transform="rotate(-90 472.35 645)">6</text>
<text x="475.95" y="650.8" class="t" text-anchor="end" transform="rotate(-90 475.95 650.8)">D4</text>
<polyline points="482.5,578.75 482.5,549 478.9,545"/>
<polyline points="482.5,613.25 482.5,646.2"/>
<text x="481.1" y="558" class="t" transform="rotate(-90 481.1 558)" textLength="6.8" style="font-size:7.2px">D3</text>
<text x="481.1" y="577.5" class="t" transform="rotate(-90 481.1 577.5)" textLength="6.2" style="font-size:6.8px">17</text>
<text x="481.1" y="616" class="t" text-anchor="end" transform="rotate(-90 481.1 616)" textLength="6.2" style="font-size:6.8px">16</text>
<text x="481.1" y="645" class="t" transform="rotate(-90 481.1 645)">5</text>
<text x="484.7" y="650.8" class="t" text-anchor="end" transform="rotate(-90 484.7 650.8)">D3</text>
<polyline points="491.25,578.75 491.25,549 487.65,545"/>
<polyline points="491.25,613.25 491.25,646.2"/>
<text x="489.85" y="558" class="t" transform="rotate(-90 489.85 558)" textLength="6.8" style="font-size:7.2px">D2</text>
<text x="489.85" y="577.5" class="t" transform="rotate(-90 489.85 577.5)" textLength="3.1" style="font-size:6.8px">4</text>
<text x="489.85" y="616" class="t" text-anchor="end" transform="rotate(-90 489.85 616)" textLength="3.1" style="font-size:6.8px">5</text>
<text x="489.85" y="645" class="t" transform="rotate(-90 489.85 645)">4</text>
<text x="493.45" y="650.8" class="t" text-anchor="end" transform="rotate(-90 493.45 650.8)">D2</text>
<polyline points="500,578.75 500,549 496.4,545"/>
<polyline points="500,613.25 500,646.2"/>
<text x="498.6" y="558" class="t" transform="rotate(-90 498.6 558)" textLength="6.8" style="font-size:7.2px">D1</text>
<text x="498.6" y="577.5" class="t" transform="rotate(-90 498.6 577.5)" textLength="3.1" style="font-size:6.8px">3</text>
<text x="498.6" y="616" class="t" text-anchor="end" transform="rotate(-90 498.6 616)" textLength="3.1" style="font-size:6.8px">2</text>
<text x="498.6" y="645" class="t" transform="rotate(-90 498.6 645)">3</text>
<text x="502.2" y="650.8" class="t" text-anchor="end" transform="rotate(-90 502.2 650.8)">D1</text>
<polyline points="508.75,578.75 508.75,549 505.15,545"/>
<polyline points="508.75,613.25 508.75,646.2"/>
<text x="507.35" y="558" class="t" transform="rotate(-90 507.35 558)" textLength="6.8" style="font-size:7.2px">D0</text>
<text x="507.35" y="577.5" class="t" transform="rotate(-90 507.35 577.5)" textLength="6.2" style="font-size:6.8px">18</text>
<text x="507.35" y="616" class="t" text-anchor="end" transform="rotate(-90 507.35 616)" textLength="6.2" style="font-size:6.8px">19</text>
<text x="507.35" y="645" class="t" transform="rotate(-90 507.35 645)">2</text>
<text x="510.95" y="650.8" class="t" text-anchor="end" transform="rotate(-90 510.95 650.8)">D0</text>
<text x="473" y="594.5" class="n">IC12</text>
<text x="473" y="603.5" class="n">374</text>
<text x="499" y="606.5" class="t">/FE</text>
<polyline points="514.5,583.3 507,586.25 514.5,589.2"/>
<text x="516.5" y="584.7" class="t">11</text>
<text x="516.5" y="602" class="t">1</text>
<polyline points="514.5,603.75 527.5,603.75"/>
<polyline points="527.5,598 527.5,609.5" style="stroke-width:1.3"/>
<polyline points="522,621.25 522,646.2"/>
<polyline points="516,621.25 528,621.25" style="stroke-width:1.3"/>
<text x="520" y="644" class="t" transform="rotate(-90 520 644)" style="font-size:5.6px">18-25</text>
<text x="525.2" y="650.5" class="t" text-anchor="end" transform="rotate(-90 525.2 650.5)">GND</text>
<polyline points="336.4,583.6 336.4,592.4" style="stroke-width:1.6"/>
<polyline points="336.4,588 344.5,588"/>
<polyline points="336.4,585.7 327.8,580"/>
<polyline points="336.4,590.3 328.5,597 328.5,600.8"/>
<polyline points="323,600.8 332.6,600.8" style="stroke-width:1.9"/>
<polyline points="331.5,591.4 330,595.8 334.3,595"/>
<rect x="344.5" y="585.8" width="14.1" height="4.4" class="w"/>
<polyline points="358.6,588 379.5,588"/>
<circle cx="366.7" cy="588" r="1.8499999999999999" class="d"/>
<polyline points="336.4,634.9 336.4,643.7" style="stroke-width:1.6"/>
<polyline points="336.4,639.3 344.5,639.3"/>
<polyline points="336.4,637 327.8,627.5"/>
<polyline points="336.4,641.6 328.5,648.3 328.5,652.1"/>
<polyline points="323,652.1 332.6,652.1" style="stroke-width:1.9"/>
<polyline points="331.5,642.7 330,647.1 334.3,646.3"/>
<rect x="344.5" y="637.1" width="14.1" height="4.4" class="w"/>
<polyline points="358.6,639.3 379.5,639.3"/>
<circle cx="366.7" cy="639.3" r="1.8499999999999999" class="d"/>
<text x="332.3" y="572.8" class="t">T4</text>
<text x="331.2" y="579.8" class="t">BC547</text>
<text x="332.3" y="625" class="t">T3</text>
<text x="331.2" y="631.4" class="t">BC547</text>
<text x="345" y="599.3" class="t">R15</text>
<text x="345" y="605.8" class="t">4k7</text>
<text x="345" y="650" class="t">R14</text>
<text x="345" y="656.5" class="t">4k7</text>
<path d="M388.8,552.4 H386.3 A6.5,9.15 0 0 0 386.3,570.7 H388.8 Z"/>
<path d="M388.8,578.9 H386.3 A6.5,8.8 0 0 0 386.3,596.5 H388.8 Z"/>
<circle cx="379.5" cy="562" r="1.75" class="d"/>
<circle cx="379.5" cy="588" r="1.75" class="d"/>
<polyline points="388.8,557.5 427.3,557.5 427.3,565.5"/>
<polyline points="399.3,555.4 403.5,559.6"/>
<polyline points="399.3,559.6 403.5,555.4"/>
<polyline points="388.8,592.4 427.3,592.4 427.3,583.6"/>
<polyline points="399.3,590.3 403.5,594.5"/>
<polyline points="399.3,594.5 403.5,590.3"/>
<polyline points="388.8,566 400.3,566 400.3,573.2 395,573.2 372,577.5 366.6,577.5 366.6,588"/>
<polyline points="379.5,562 366.6,562 366.6,573.2 372,573.2 395,577.5 400.3,577.5 400.3,583 388.8,583"/>
<circle cx="427.3" cy="565.6" r="2.35" class="d"/>
<circle cx="427.3" cy="574.6" r="2.35" class="d"/>
<circle cx="427.3" cy="583.6" r="2.35" class="d"/>
<polyline points="409.8,574.6 427.3,574.6"/>
<polyline points="409.8,570 409.8,579" style="stroke-width:1.4"/>
<path d="M388.8,603.8 H386.3 A6.5,9.15 0 0 0 386.3,622.1 H388.8 Z"/>
<path d="M388.8,630.3 H386.3 A6.5,8.8 0 0 0 386.3,647.9 H388.8 Z"/>
<circle cx="379.5" cy="613.4" r="1.75" class="d"/>
<circle cx="379.5" cy="639.4" r="1.75" class="d"/>
<polyline points="388.8,608.9 427.3,608.9 427.3,616.9"/>
<polyline points="399.3,606.8 403.5,611"/>
<polyline points="399.3,611 403.5,606.8"/>
<polyline points="388.8,643.8 427.3,643.8 427.3,635"/>
<polyline points="399.3,641.7 403.5,645.9"/>
<polyline points="399.3,645.9 403.5,641.7"/>
<polyline points="388.8,617.4 400.3,617.4 400.3,624.6 395,624.6 372,628.9 366.6,628.9 366.6,639.4"/>
<polyline points="379.5,613.4 366.6,613.4 366.6,624.6 372,624.6 395,628.9 400.3,628.9 400.3,634.4 388.8,634.4"/>
<circle cx="427.3" cy="617" r="2.35" class="d"/>
<circle cx="427.3" cy="626" r="2.35" class="d"/>
<circle cx="427.3" cy="635" r="2.35" class="d"/>
<polyline points="409.8,626 427.3,626"/>
<polyline points="409.8,621.4 409.8,630.4" style="stroke-width:1.4"/>
<text x="392.5" y="556.2" class="t">13</text>
<text x="392.5" y="564.7" class="t">12</text>
<text x="392.5" y="581.9" class="t">10</text>
<text x="392.5" y="591.1" class="t">9</text>
<text x="377" y="560.6" class="t" text-anchor="end">11</text>
<text x="377" y="586.6" class="t" text-anchor="end">8</text>
<text x="392.5" y="607.6" class="t">1</text>
<text x="392.5" y="616.1" class="t">2</text>
<text x="392.5" y="633.3" class="t">4</text>
<text x="392.5" y="642.5" class="t">5</text>
<text x="377" y="612" class="t" text-anchor="end">3</text>
<text x="377" y="637.8" class="t" text-anchor="end">6</text>
<text x="405.5" y="555.7" class="t">2RN2</text>
<text x="405" y="564.3" class="t">10k</text>
<text x="405.5" y="590.6" class="t">5RN2</text>
<text x="405" y="599" class="t">10k</text>
<text x="405.5" y="607.3" class="t">3RN2</text>
<text x="405" y="615.8" class="t">10k</text>
<text x="405.5" y="641.8" class="t">4RN2</text>
<text x="405" y="650" class="t">10k</text>
<text x="435" y="580.3" class="t" transform="rotate(-90 435 580.3)">SW2</text>
<text x="435" y="633.5" class="t" transform="rotate(-90 435 633.5)">SW1</text>
<text x="375.5" y="656" class="n">IC15</text>
<text x="375.5" y="664.5" class="n">00</text>
<polyline points="447.5,166 447.5,175"/>
<polyline points="443.9,169.6 447.5,166 451.1,169.6"/>
<rect x="445.5" y="175" width="4" height="12.5" class="w"/>
<polyline points="447.5,187.5 447.5,192.5"/>
<rect x="445.5" y="192.5" width="4" height="12.5" class="w"/>
<polyline points="447.5,205 447.5,209.5"/>
<rect x="445.5" y="209.5" width="4" height="13" class="w"/>
<polyline points="447.5,222.5 447.5,232"/>
<polyline points="442.5,232 452.5,232" style="stroke-width:1.9"/>
<polyline points="440,203 443,201.5 455,197 525.5,197"/>
<polyline points="441,200 444.5,201 442.5,204"/>
<circle cx="464" cy="197" r="1.75" class="d"/>
<polyline points="464,197 464,215"/>
<polyline points="459,215 469,215" style="stroke-width:1.2"/>
<rect x="459" y="216.5" width="10" height="2"/>
<polyline points="464,218.5 464,232"/>
<polyline points="459,232 469,232" style="stroke-width:1.9"/>
<polyline points="481,215 481,205.5 525.5,205.5"/>
<polyline points="476,215 486,215" style="stroke-width:1.2"/>
<rect x="476" y="216.5" width="10" height="2"/>
<polyline points="481,218.5 481,232"/>
<polyline points="476,232 486,232" style="stroke-width:1.9"/>
<polyline points="499.5,166 499.5,175"/>
<polyline points="495.9,169.6 499.5,166 503.1,169.6"/>
<rect x="497.5" y="175" width="4" height="12.5" class="w"/>
<polyline points="499.5,187.5 499.5,210.5"/>
<circle cx="499.5" cy="205.5" r="1.75" class="d"/>
<rect x="497.5" y="210.5" width="4" height="12" class="w"/>
<polyline points="499.5,222.5 499.5,232"/>
<polyline points="494.5,232 504.5,232" style="stroke-width:1.9"/>
<text x="452" y="181" class="t" style="font-size:5.6px">R2</text>
<text x="452" y="187.5" class="t" style="font-size:5.6px">47k</text>
<text x="429" y="198.5" class="t" style="font-size:5.6px">P1</text>
<text x="424" y="205.5" class="t" style="font-size:5.6px">50k</text>
<text x="435" y="216" class="t" style="font-size:5.6px">R3</text>
<text x="431" y="222.5" class="t" style="font-size:5.6px">47k</text>
<text x="504" y="181" class="t" style="font-size:5.6px">R4</text>
<text x="504" y="187.5" class="t" style="font-size:5.6px">1M</text>
<text x="504" y="216" class="t" style="font-size:5.6px">R5</text>
<text x="504" y="222.5" class="t" style="font-size:5.6px">1M</text>
<text x="467.5" y="211.5" class="t" style="font-size:5.6px">C3</text>
<text x="467" y="226" class="t" style="font-size:5.6px">1µ</text>
<text x="484" y="211.5" class="t" style="font-size:5.6px">C4</text>
<text x="484.5" y="226" class="t" style="font-size:5.6px">1µ</text>
<text x="525" y="175.5" class="n">IC16</text>
<text x="525" y="184.5" class="n">TLC271</text>
<polyline points="525.5,190 525.5,221 551,205.5 525.5,190"/>
<text x="523.5" y="195.5" class="t" text-anchor="end">3</text>
<text x="523.5" y="204" class="t" text-anchor="end">8</text>
<text x="523.5" y="212.5" class="t" text-anchor="end">2</text>
<text x="553" y="203.5" class="t">6</text>
<text x="527" y="199.5" class="t">+</text>
<text x="527" y="216" class="t">-</text>
<polyline points="525.5,214 517.5,214 517.5,226.75 595.5,226.75 595.5,200.5"/>
<polyline points="551,205.5 565,205.5"/>
<circle cx="565" cy="205.5" r="1.8499999999999999" class="d"/>
<polyline points="577.5,187.5 565,187.5 565,214 577.5,214"/>
<polyline points="577.5,182.5 577.5,192.5" style="stroke-width:1.5"/>
<polyline points="577.5,209.5 577.5,219" style="stroke-width:1.5"/>
<polyline points="577.5,185.5 586,180 586,166"/>
<polyline points="582.4,169.6 586,166 589.6,169.6"/>
<polyline points="577.5,189.5 586,195.5 586,204 577.5,212"/>
<polyline points="577.5,216.5 586,221 586,231"/>
<polyline points="581,231 591,231" style="stroke-width:1.9"/>
<polyline points="582,194.5 585.5,195 584.5,191.8"/>
<polyline points="582,205 581,208.5 584.5,208.3"/>
<circle cx="586" cy="200.5" r="1.75" class="d"/>
<polyline points="586,200.5 629.5,200.5"/>
<circle cx="595.5" cy="200.5" r="1.8499999999999999" class="d"/>
<polyline points="625.5,196.5 629.5,200.5 625.5,204.5"/>
<text x="634" y="204.5" class="n">UX</text>
<text x="599" y="183" class="n">T1</text>
<text x="599" y="191.5" class="n">BD433</text>
<text x="599" y="214.5" class="n">T2</text>
<text x="599" y="222.5" class="n">BD434</text>
<text x="655" y="170" class="t" textLength="96">Terminierungs-Widerstände</text>
<polyline points="653,172.3 752,172.3"/>
<text x="655" y="182.5" class="t" textLength="51.35">RN3 -&gt; D0..D7</text>
<text x="655" y="191" class="t" textLength="51.35">RN4 -&gt; A0..A7</text>
<text x="655" y="200" class="t" textLength="55.3">RN5 -&gt; A8..A15</text>
<text x="655" y="209" class="t" textLength="150.1">RN6 -&gt; MRQ,IORQ,RD,WR,M1,RFSH,CLK,2CLK</text>
<text x="655" y="217.75" class="t" textLength="110.6">R6..R9 -&gt; INT,NMI,WAIT,BUSRQ</text>
<path d="M365,128 A6,6 0 0 1 376,124" style="stroke:#e4e4e4;stroke-width:1"/>
<circle cx="599" cy="128" r="6" style="fill:none;stroke:#ececec;stroke-width:1"/>
</svg>
</body></html>
